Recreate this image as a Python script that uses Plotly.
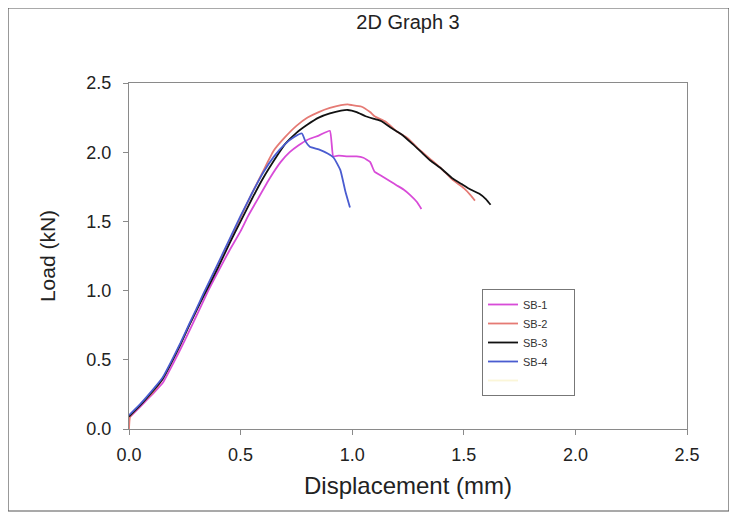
import plotly.graph_objects as go

# SB-1 (magenta)
sb1_x = [0.0, 0.05, 0.11, 0.15, 0.20, 0.25, 0.30, 0.355, 0.40, 0.45, 0.50, 0.534, 0.58, 0.63, 0.68, 0.72, 0.76, 0.80, 0.85, 0.90,
         0.915, 0.94, 0.98, 1.02, 1.05, 1.08, 1.10, 1.13, 1.17, 1.20, 1.23, 1.26, 1.29, 1.31]
sb1_y = [0.08, 0.16, 0.26, 0.33, 0.48, 0.64, 0.81, 1.00, 1.14, 1.29, 1.43, 1.54, 1.67, 1.81, 1.93, 2.00, 2.05, 2.09, 2.12, 2.155,
         1.97, 1.975, 1.97, 1.97, 1.96, 1.93, 1.86, 1.83, 1.79, 1.76, 1.73, 1.69, 1.64, 1.59]

# SB-2 (salmon red)
sb2_x = [0.0, 0.005, 0.05, 0.11, 0.15, 0.19, 0.23, 0.27, 0.30, 0.334, 0.40, 0.45, 0.50, 0.55, 0.60, 0.648, 0.70, 0.75, 0.80, 0.85,
         0.90, 0.95, 0.98, 1.00, 1.04, 1.08, 1.10, 1.15, 1.20, 1.25, 1.30, 1.35, 1.40, 1.45, 1.50, 1.53, 1.55]
sb2_y = [0.0, 0.09, 0.17, 0.27, 0.36, 0.48, 0.61, 0.75, 0.85, 0.97, 1.19, 1.36, 1.53, 1.70, 1.86, 2.01, 2.11, 2.19, 2.25, 2.29,
         2.32, 2.34, 2.345, 2.34, 2.33, 2.29, 2.26, 2.22, 2.15, 2.10, 2.02, 1.95, 1.88, 1.80, 1.74, 1.69, 1.65]

# SB-3 (black)
sb3_x = [0.0, 0.05, 0.11, 0.15, 0.19, 0.23, 0.27, 0.30, 0.334, 0.40, 0.45, 0.50, 0.55, 0.60, 0.67, 0.70, 0.75, 0.80, 0.85, 0.90,
         0.95, 0.98, 1.02, 1.06, 1.10, 1.13, 1.17, 1.22, 1.27, 1.31, 1.35, 1.40, 1.45, 1.49, 1.53, 1.57, 1.60, 1.62]
sb3_y = [0.09, 0.17, 0.28, 0.36, 0.48, 0.61, 0.75, 0.85, 0.96, 1.17, 1.34, 1.50, 1.66, 1.81, 1.99, 2.06, 2.14, 2.20, 2.25, 2.28,
         2.30, 2.305, 2.29, 2.26, 2.24, 2.225, 2.18, 2.13, 2.06, 2.00, 1.94, 1.88, 1.81, 1.77, 1.73, 1.70, 1.66, 1.62]

# SB-4 (blue)
sb4_x = [0.0, 0.05, 0.11, 0.15, 0.19, 0.23, 0.27, 0.30, 0.334, 0.40, 0.45, 0.50, 0.55, 0.60, 0.65, 0.70, 0.74, 0.775,
         0.79, 0.81, 0.85, 0.89, 0.917, 0.947, 0.969, 0.99]
sb4_y = [0.10, 0.18, 0.29, 0.37, 0.49, 0.62, 0.76, 0.86, 0.98, 1.20, 1.37, 1.54, 1.70, 1.85, 1.97, 2.06, 2.11, 2.135,
         2.08, 2.04, 2.02, 1.99, 1.96, 1.87, 1.72, 1.60]

x_ticks = [0.0, 0.5, 1.0, 1.5, 2.0, 2.5]
y_ticks = [0.0, 0.5, 1.0, 1.5, 2.0, 2.5]

series = [
    ("SB-1", sb1_x, sb1_y, "#d84bd8"),
    ("SB-2", sb2_x, sb2_y, "#e57a74"),
    ("SB-3", sb3_x, sb3_y, "#111111"),
    ("SB-4", sb4_x, sb4_y, "#4a5cd0"),
]

FONT = "Liberation Sans, Arial"
NB = "\u00a0" * 7

fig = go.Figure()
for name, xs, ys, col in series:
    fig.add_trace(go.Scatter(x=xs, y=ys, mode="lines", name=name + NB,
                             line=dict(color=col, width=1.8, shape="spline", smoothing=0.4)))
# faint empty fifth legend slot, as in the original legend box
fig.add_trace(go.Scatter(x=[None], y=[None], mode="lines", name=" ",
                         line=dict(color="#fbf6d8", width=1.8)))

axis_common = dict(
    showgrid=False, zeroline=False, showline=True, linecolor="#8a8a8a", linewidth=1.2,
    mirror=True, ticks="outside", ticklen=5, tickcolor="#8a8a8a",
    tickfont=dict(family=FONT, size=18, color="#222222"),
    tickformat=".1f",
)

W, H = 729, 508  # page body adds an 8px offset
fig.update_layout(
    width=W, height=H,
    margin=dict(l=121, r=50, t=75, b=87),
    paper_bgcolor="white", plot_bgcolor="white",
    title=dict(text="2D Graph 3", x=0.5, xref="paper", y=1 - 14 / H, yanchor="middle",
               font=dict(family=FONT, size=20, color="#222222")),
    xaxis=dict(range=[0, 2.5], tickvals=x_ticks, ticklabelstandoff=4,
               title=dict(text="Displacement (mm)", standoff=13,
                          font=dict(family=FONT, size=24, color="#222222")),
               **axis_common),
    yaxis=dict(range=[0, 2.5], tickvals=y_ticks, ticklabelstandoff=8,
               title=dict(text="Load (kN)", standoff=24,
                          font=dict(family=FONT, size=21, color="#222222")),
               **axis_common),
    legend=dict(x=(482 - 129) / 558, y=(429 - 289) / 346, xanchor="left", yanchor="top",
                bordercolor="#777777", borderwidth=1, bgcolor="white",
                font=dict(family=FONT, size=11, color="#333333"),
                tracegroupgap=0, itemwidth=30),
    showlegend=True,
)

# outer frame around the whole graphic
fig.add_shape(type="rect", xref="paper", yref="paper",
              x0=(8 - 129) / 558, x1=(729 - 129) / 558,
              y0=(429 - 511) / 346, y1=(429 - 8) / 346,
              line=dict(color="#555555", width=1.2), fillcolor="rgba(0,0,0,0)", layer="below")

fig.write_html("out.html")
